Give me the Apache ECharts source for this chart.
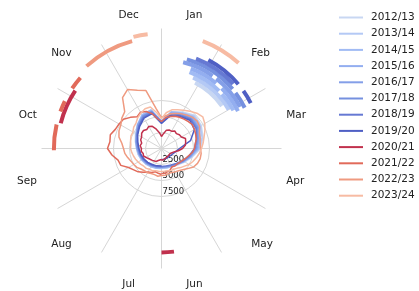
<!DOCTYPE html>
<html>
<head>
<meta charset="utf-8">
<script src="https://cdn.jsdelivr.net/npm/echarts@6/dist/echarts.min.js"></script>
<style>html,body{margin:0;padding:0;background:#fff}#c{width:419px;height:291px}</style>
</head>
<body>
<div id="c"></div>
<script>
// ---- data ----
const months = ['Jul','Aug','Sep','Oct','Nov','Dec','Jan','Feb','Mar','Apr','May','Jun'];
const seasons = ['2012/13','2013/14','2014/15','2015/16','2016/17','2017/18','2018/19','2019/20','2020/21','2021/22','2022/23','2023/24'];
const rTicks = [2500, 5000, 7500];
// positions within the season, in months from 1 July
const samplePos = [0,0.5,1,1.5,2,2.5,3,3.5,4,4.5,5,5.5,6,6.5,7,7.5,8,8.5,9,9.5,10,10.5,11,11.5,12];
const samplePosWeek = [0,0.25,0.5,0.75,1,1.25,1.5,1.75,2,2.25,2.5,2.75,3,3.25,3.5,3.75,4,4.25,4.5,4.75,5,5.25,5.5,5.75,6,6.25,6.5,6.75,7,7.25,7.5,7.75,8,8.25,8.5,8.75,9,9.25,9.5,9.75,10,10.25,10.5,10.75,11,11.25,11.5,11.75,12];
const v2012 = [3050,3120,3290,3430,3600,3760,3900,4230,4700,5300,5950,6240,4380,5930,6570,7350,7180,6710,6100,5010,4210,3600,3270,3140,3120];
const v2013 = [2970,3130,3200,3360,3590,3750,3910,4140,4530,5160,5780,6090,4220,5780,6410,7190,7030,6560,5940,4840,4060,3440,3130,3050,3050];
const v2014 = [3130,3200,3280,3440,3520,3670,3830,4060,4530,5310,6090,6250,4060,5940,6410,7030,6880,6250,5780,4840,4060,3520,3200,3130,3050];
const v2015 = [2970,3050,3130,3280,3440,3590,3750,4060,4450,5160,5940,6090,4220,5780,6250,6880,6720,6090,5630,4690,4060,3440,3130,2970,2970];
const v2016 = [2890,2970,3130,3280,3440,3590,3830,4140,4530,5230,5860,5940,4060,5630,6250,6720,6560,5940,5470,4690,3980,3440,3130,2970,2890];
const v2017 = [2810,2970,3050,3200,3360,3520,3670,3980,4380,5000,5780,5940,4220,5630,6090,6560,6410,5780,5310,4530,3910,3360,3050,2890,2890];
const v2018 = [2810,2890,2970,3130,3280,3440,3590,3910,4380,5000,5630,5780,4060,5470,5940,6410,6250,5630,5160,4450,3830,3280,2970,2810,2810];
const v2019 = [2730,2810,2890,3050,3200,3360,3520,3830,4300,4840,5470,5630,3910,5310,5780,6250,5940,4690,2810,2190,1880,1720,1720,1720,1720];
const v2020 = [1720,1800,1950,2190,2110,2340,2340,2580,2660,3050,2970,3200,3130,3360,3200,3520,3590,3910,3980,3750,3980,3750,3130,2500,1880,2340,2970,3130,3130,3440,3280,3520,3590,4060,3910,3750,3280,2660,2030,1800,1560,1640,1480,1560,1560,1640,1720,1800,1800];
const v2021 = [4060,3910,3750,4060,4220,4690,5160,5470,5940,6880,7030,7810,8440,8130,8280,7810,7660,7500,6880,6250,6560,6250,5630,4690,4220,4840,5160,5470,5630,5780,5940,6090,5940,5780,5630,5310,5160,4840,4380,4060,3750,3590,3440,3440,3280,3590,3750,3910,3910];
const v2022 = [4220,4380,4220,4220,4380,4380,4530,4840,5000,5160,5470,5780,5940,6250,6880,7190,7340,7810,8130,10000,10630,9840,9380,6250,4840,5160,5630,5940,6250,6560,6880,7030,6880,6410,6250,6090,6090,6250,6250,6090,5780,5160,4690,4380,4220,4060,4060,4220,4220];
const v2023 = [3590,3590,3590,3750,3750,3910,3910,4060,4220,4380,4530,4690,4840,4840,5000,5160,5160,5470,5630,6090,6410,6720,6720,5630,4690,5630,6250,6560,6880,7340,7810,8130,7810,7340,6880,6560,6250,5940,5630,5310,5000,4530,4220,3910,3750,3750,3590,3590,3590];
// peak periods [start, end], in months from 1 July
const p2012 = [[6.90,7.83]];
const p2013 = [[6.80,8.00]];
const p2014 = [[6.67,7.50],[7.60,8.07]];
const p2015 = [[6.67,7.33],[7.50,8.13]];
const p2016 = [[6.47,7.17],[7.27,8.07]];
const p2017 = [[6.53,7.67],[7.77,8.13]];
const p2018 = [[6.70,7.60]];
const p2019 = [[6.93,7.67],[7.83,8.10]];
const p2020 = [[3.47,4.13],[11.77,12.0]];
const p2021 = [[2.97,3.43],[3.67,3.87],[4.13,4.37]];
const p2022 = [[4.59,5.49]];
const p2023 = [[5.53,5.77],[6.70,7.40]];

const values = [v2012,v2013,v2014,v2015,v2016,v2017,v2018,v2019,v2020,v2021,v2022,v2023];
const peaks = [p2012,p2013,p2014,p2015,p2016,p2017,p2018,p2019,p2020,p2021,p2022,p2023];
const colors = ['#c8d7f2','#b4c9f5','#a1bbf4','#93aef0','#849fe8','#7590df','#6679d3','#4f5fc4','#c1314d','#e16a5a','#ef9a80','#f7bba3'];

const FONT = 'DejaVu Sans';
const center = [161.5, 148.5];
const hidden = {show:false};

const lineSeries = seasons.map((name, i) => {
  const vals = values[i];
  const pos = vals.length === samplePosWeek.length ? samplePosWeek : samplePos;
  return {
    name, type:'line', coordinateSystem:'polar', polarIndex:1,
    symbol:'none', smooth:false, animation:false,
    lineStyle:{width:1.5, color:colors[i]}, itemStyle:{color:colors[i]},
    data: vals.map((v, k) => [v, pos[k]]),
    z: 3 + i
  };
});

const arcData = [];
peaks.forEach((list, i) => list.forEach(p => arcData.push([i, p[0], p[1]])));

const arcSeries = {
  type:'custom', coordinateSystem:'polar', polarIndex:3, animation:false,
  encode:{radius:0, angle:[1,2]},
  data: arcData,
  z: 20,
  renderItem(params, api) {
    const cs = params.coordSys;
    const i = api.value(0);
    const p1 = api.coord([i, api.value(1)]);
    const p2 = api.coord([i, api.value(2)]);
    const cx = cs.cx, cy = cs.cy;
    const r = Math.hypot(p1[0]-cx, p1[1]-cy);
    const a1 = Math.atan2(p1[1]-cy, p1[0]-cx);
    let a2 = Math.atan2(p2[1]-cy, p2[0]-cx);
    if (a2 < a1) a2 += Math.PI*2;
    return {type:'arc', shape:{cx, cy, r, startAngle:a1, endAngle:a2, clockwise:true},
            style:{stroke:colors[i], lineWidth:4, fill:null, lineCap:'butt'}};
  }
};

const padFor = {Jan:[0,0,5,0], Dec:[0,0,5,0], Jul:[8,0,0,0], Jun:[8,0,0,0],
                Mar:[0,0,0,2], Apr:[0,0,0,2], Sep:[0,2,0,0], Oct:[0,2,0,0]};
const monthItems = months.map(m => padFor[m] ? {value:m, textStyle:{padding:padFor[m]}} : m);

const chart = echarts.init(document.getElementById('c'), null, {renderer:'canvas'});
chart.setOption({
  animation:false,
  backgroundColor:'#fff',
  textStyle:{fontFamily:FONT},
  legend:{
    orient:'vertical', left:339, top:12, padding:0, itemWidth:24, itemHeight:12, itemGap:5.2,
    data: seasons, icon:'path://M0,5 L24,5 L24,7 L0,7 Z',
    textStyle:{fontFamily:FONT, fontSize:10.5, color:'#222', padding:[0,0,0,3]}
  },
  polar:[
    {center, radius:120},
    {center, radius:120},
    {center, radius:48},
    {center, radius:[72,117]}
  ],
  angleAxis:[
    {polarIndex:0, type:'category', data:monthItems, startAngle:270, clockwise:true,
     axisLine:hidden, axisTick:hidden,
     axisLabel:{show:true, margin:7, fontFamily:FONT, fontSize:10.5, color:'#222'},
     splitLine:{show:true, lineStyle:{color:'#d6d6d6', width:1}}},
    {polarIndex:1, type:'value', min:0, max:12, startAngle:270, clockwise:true,
     axisLine:hidden, axisTick:hidden, axisLabel:hidden, splitLine:hidden},
    {polarIndex:2, type:'value', min:0, max:12, startAngle:270, clockwise:true,
     axisLine:hidden, axisTick:hidden, axisLabel:hidden, splitLine:hidden},
    {polarIndex:3, type:'value', min:0, max:12, startAngle:270, clockwise:true,
     axisLine:hidden, axisTick:hidden, axisLabel:hidden, splitLine:hidden}
  ],
  radiusAxis:[
    {polarIndex:0, type:'value', min:0, max:18750, axisLine:hidden, axisTick:hidden, axisLabel:hidden, splitLine:hidden},
    {polarIndex:1, type:'value', min:0, max:18750, axisLine:hidden, axisTick:hidden, axisLabel:hidden, splitLine:hidden},
    {polarIndex:2, type:'value', min:0, max:rTicks[rTicks.length-1], interval:rTicks[0],
     axisLine:hidden, axisTick:hidden,
     axisLabel:{show:true, fontFamily:FONT, fontSize:8.5, color:'#222', margin:1, align:'left', verticalAlign:'bottom',
       formatter: v => (v === 0 ? '' : String(v))},
     splitLine:{show:true, lineStyle:{color:'#d6d6d6', width:1}}},
    {polarIndex:3, type:'category', data:seasons, axisLine:hidden, axisTick:hidden, axisLabel:hidden, splitLine:hidden}
  ],
  series:[...lineSeries, arcSeries]
});
</script>
</body>
</html>
